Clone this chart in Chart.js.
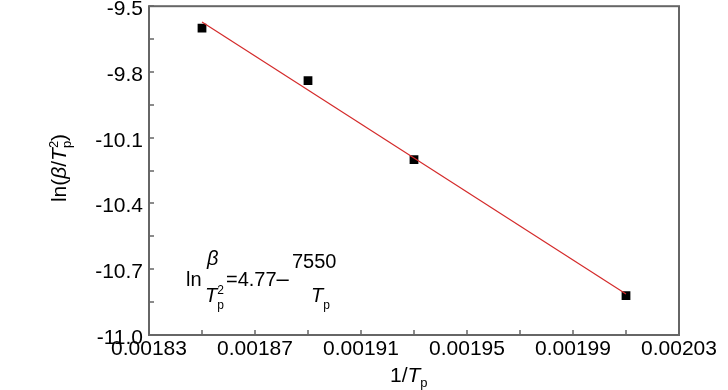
<!DOCTYPE html>
<html>
<head>
<meta charset="utf-8">
<script src="https://cdn.jsdelivr.net/npm/chart.js@4"></script>
<style>
html,body{margin:0;padding:0;background:#fff;}
canvas{display:block;}
</style>
</head>
<body>
<canvas id="grafico" width="728" height="390"></canvas>
<script>
// dados
const invTp = [0.00185, 0.00189, 0.00193, 0.00201];
const lnBeta = [-9.60, -9.84, -10.20, -10.82];
const xTicks = ['0.00183', '0.00187', '0.00191', '0.00195', '0.00199', '0.00203'];
const yTicks = ['-11.0', '-10.7', '-10.4', '-10.1', '-9.8', '-9.5'];

const fonte = "'Liberation Sans', Arial, sans-serif";
const cinza = '#666';

// ajuste linear (minimos quadrados)
function ajuste(xs, ys){
  let n = xs.length, mx = 0, my = 0
  for(let i = 0; i < n; i++){ mx += xs[i]; my += ys[i] }
  mx /= n; my /= n
  let sxy = 0, sxx = 0
  for(let i = 0; i < n; i++){ sxy += (xs[i]-mx)*(ys[i]-my); sxx += (xs[i]-mx)**2 }
  let b = sxy/sxx
  return x => my + b*(x-mx)
}
const reta = ajuste(invTp, lnBeta)
const xIni = invTp[0], xFim = invTp[invTp.length-1]

let pontos = invTp.map((x, i) => ({x: x, y: lnBeta[i]}))
let linha = [{x: xIni, y: reta(xIni)}, {x: xFim, y: reta(xFim)}]

// texto com italico, sobrescrito e subscrito
function escreve(ctx, x, y, partes, medir){
  let cx = x
  partes.forEach(p => {
    ctx.font = (p.it ? 'italic ' : '') + p.tam + 'px ' + fonte
    if(!medir) ctx.fillText(p.t, cx, y + (p.dy || 0))
    if(!p.fica) cx += ctx.measureText(p.t).width
  })
  return cx - x
}

const extras = {
  id: 'extras',
  afterDraw(chart){
    let ctx = chart.ctx
    let a = chart.chartArea
    let sx = chart.scales.x, sy = chart.scales.y
    ctx.save()
    // marcas para dentro
    ctx.strokeStyle = cinza
    ctx.lineWidth = 1.5
    ctx.beginPath()
    sx.ticks.forEach(t => {
      let px = Math.round(sx.getPixelForValue(t.value))
      ctx.moveTo(px, a.bottom); ctx.lineTo(px, a.bottom - 5)
    })
    sy.ticks.forEach(t => {
      let py = Math.round(sy.getPixelForValue(t.value))
      ctx.moveTo(a.left, py); ctx.lineTo(a.left + 5, py)
    })
    ctx.stroke()
    // moldura
    ctx.lineWidth = 2
    ctx.strokeRect(a.left, a.top, a.right - a.left, a.bottom - a.top)

    ctx.fillStyle = '#000'
    ctx.textBaseline = 'alphabetic'
    ctx.textAlign = 'left'

    // titulo eixo x
    escreve(ctx, 390, 382, [
      {t: '1/', tam: 21},
      {t: 'T', tam: 21, it: true},
      {t: 'p', tam: 13, dy: 5}
    ])

    // titulo eixo y
    let py = [
      {t: 'ln(', tam: 21},
      {t: 'β', tam: 21, it: true},
      {t: '/', tam: 21},
      {t: 'T', tam: 21, it: true},
      {t: '2', tam: 13, dy: -8, fica: true},
      {t: 'p', tam: 13, dy: 5},
      {t: ')', tam: 21}
    ]
    ctx.save()
    ctx.translate(66, 168)
    ctx.rotate(-Math.PI/2)
    let w = escreve(ctx, 0, 0, py, true)
    escreve(ctx, -w/2, 0, py)
    ctx.restore()

    // equacao
    escreve(ctx, 186, 286, [{t: 'ln', tam: 20}])
    escreve(ctx, 207, 265, [{t: 'β', tam: 20, it: true}])
    escreve(ctx, 205, 302, [
      {t: 'T', tam: 20, it: true},
      {t: '2', tam: 12, dy: -8, fica: true},
      {t: 'p', tam: 12, dy: 7}
    ])
    escreve(ctx, 226, 286, [{t: '=4.77', tam: 20}, {t: '–', tam: 22}])
    escreve(ctx, 292, 268, [{t: '7550', tam: 20}])
    escreve(ctx, 311, 302, [
      {t: 'T', tam: 20, it: true},
      {t: 'p', tam: 12, dy: 7}
    ])
    ctx.restore()
  }
}

let ctx = document.getElementById('grafico')
let meuGrafico = new Chart(ctx, {
  type: 'scatter',
  data: {
    datasets: [{
      type: 'line',
      data: linha,
      borderColor: '#d42a2a',
      borderWidth: 1.2,
      pointRadius: 0,
      fill: false,
    }, {
      type: 'scatter',
      data: pontos,
      pointStyle: 'rect',
      pointRadius: 6.2,
      backgroundColor: '#000',
      borderColor: '#000',
      borderWidth: 0,
    }],
  },
  options: {
    responsive: false,
    animation: false,
    devicePixelRatio: 1,
    events: [],
    layout: {padding: {left: 0, top: 5, right: 49, bottom: 0}},
    plugins: {legend: {display: false}, tooltip: {enabled: false}},
    scales: {
      x: {
        type: 'linear',
        min: 0.00183,
        max: 0.00203,
        grid: {drawOnChartArea: false, drawTicks: false},
        border: {display: false},
        ticks: {
          stepSize: 0.00002,
          autoSkip: false,
          maxRotation: 0,
          padding: 2,
          color: '#000',
          font: {family: fonte, size: 21},
          callback: (v, i) => i % 2 === 0 ? xTicks[i/2] : '',
        },
        afterFit(s){ s.height = 55; s.paddingLeft = 0; s.paddingRight = 0 },
      },
      y: {
        min: -11,
        max: -9.5,
        grid: {drawOnChartArea: false, drawTicks: false},
        border: {display: false},
        ticks: {
          stepSize: 0.15,
          autoSkip: false,
          padding: 6,
          labelOffset: 3,
          color: '#000',
          font: {family: fonte, size: 21},
          callback: (v, i) => i % 2 === 0 ? yTicks[i/2] : '',
        },
        afterFit(s){ s.width = 149; s.paddingTop = 0; s.paddingBottom = 0 },
      },
    },
  },
  plugins: [extras],
})
</script>
</body>
</html>
